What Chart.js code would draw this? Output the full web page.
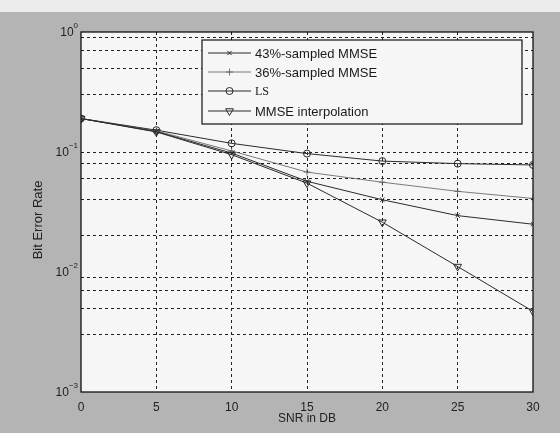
<!DOCTYPE html>
<html>
<head>
<meta charset="utf-8">
<script src="https://cdn.jsdelivr.net/npm/chart.js@4/dist/chart.umd.min.js"></script>
<style>
html,body{margin:0;padding:0;background:#b3b3b3;}
canvas{display:block;}
</style>
</head>
<body>
<canvas id="c" width="560" height="433"></canvas>
<script>
// ---- data ----
const snr = [0, 5, 10, 15, 20, 25, 30];
const mmse43 = [0.19, 0.148, 0.098, 0.057, 0.040, 0.0295, 0.025];
const mmse36 = [0.19, 0.150, 0.102, 0.068, 0.056, 0.047, 0.041];
const lsEst = [0.19, 0.152, 0.118, 0.097, 0.084, 0.080, 0.078];
const mmseInterp = [0.19, 0.147, 0.095, 0.055, 0.026, 0.0111, 0.0047];
const seriesLabels = ['43%-sampled MMSE', '36%-sampled MMSE', 'LS', 'MMSE interpolation'];
const xTicks = [0, 5, 10, 15, 20, 25, 30];
const yDecadeExponents = [0, -1, -2, -3];
const xTitle = 'SNR in DB';
const yTitle = 'Bit Error Rate';

// grid values for log axis (1..9 x 10^n)
const yGridValues = [];
for (let e = -3; e < 0; e++) {
  for (let m = 1; m <= 9; m++) yGridValues.push(m * Math.pow(10, e));
}
yGridValues.push(1);

const mk = (arr) => arr.map((v, i) => ({x: snr[i], y: v}));

const LINE = '#2b2b2b';
const datasets = [
  {label: seriesLabels[0], data: mk(mmse43), borderColor: LINE, borderWidth: 1, pointStyle: 'crossRot', pointRadius: 3, pointBorderWidth: 1, pointBorderColor: LINE, pointBackgroundColor: 'rgba(0,0,0,0)', pointRotation: 0},
  {label: seriesLabels[1], data: mk(mmse36), borderColor: '#5a5a5a', borderWidth: 0.8, pointStyle: 'cross', pointRadius: 3.5, pointBorderWidth: 0.8, pointBorderColor: '#5a5a5a', pointBackgroundColor: 'rgba(0,0,0,0)', pointRotation: 0},
  {label: seriesLabels[2], data: mk(lsEst), borderColor: LINE, borderWidth: 1, pointStyle: 'circle', pointRadius: 3.5, pointBorderWidth: 1, pointBorderColor: LINE, pointBackgroundColor: 'rgba(0,0,0,0)', pointRotation: 0},
  {label: seriesLabels[3], data: mk(mmseInterp), borderColor: LINE, borderWidth: 1, pointStyle: 'triangle', pointRadius: 4.5, pointBorderWidth: 1, pointBorderColor: LINE, pointBackgroundColor: 'rgba(0,0,0,0)', pointRotation: 180}
];

const decor = {
  id: 'decor',
  beforeDraw(chart) {
    const ctx = chart.ctx, a = chart.chartArea;
    ctx.save();
    ctx.fillStyle = '#b4b4b4';
    ctx.fillRect(0, 0, chart.width, chart.height);
    ctx.fillStyle = '#ececec';
    ctx.fillRect(0, 0, chart.width, 12);
    ctx.fillStyle = '#f6f6f6';
    ctx.fillRect(a.left, a.top, a.right - a.left, a.bottom - a.top);
    ctx.restore();
  },
  afterDraw(chart) {
    const ctx = chart.ctx, a = chart.chartArea;
    const ys = chart.scales.y;
    ctx.save();
    // frame
    ctx.strokeStyle = '#111';
    ctx.lineWidth = 1.3;
    ctx.strokeRect(a.left, a.top, a.right - a.left, a.bottom - a.top);
    // y tick labels 10^n
    ctx.fillStyle = '#222';
    ctx.textBaseline = 'middle';
    yDecadeExponents.forEach(e => {
      const y = ys.getPixelForValue(Math.pow(10, e));
      const exp = String(e).replace('-', '\u2212');
      ctx.font = '8px "Liberation Sans", Arial, sans-serif';
      const ew = ctx.measureText(exp).width;
      ctx.textAlign = 'right';
      ctx.fillText(exp, a.left - 3, y - 6);
      ctx.font = '12px "Liberation Sans", Arial, sans-serif';
      ctx.fillText('10', a.left - 3 - ew, y + 1);
    });
    // axis titles
    ctx.font = '12px "Liberation Sans", Arial, sans-serif';
    ctx.textAlign = 'center';
    ctx.fillText(xTitle, (a.left + a.right) / 2, 419);
    ctx.save();
    ctx.translate(38, 220);
    ctx.rotate(-Math.PI / 2);
    ctx.font = '13px "Liberation Sans", Arial, sans-serif';
    ctx.fillText(yTitle, 0, 0);
    ctx.restore();
    // legend box
    const bx = 202, by = 40, bw = 320, bh = 84;
    ctx.fillStyle = '#f6f6f6';
    ctx.fillRect(bx, by, bw, bh);
    ctx.strokeStyle = '#111';
    ctx.lineWidth = 1.2;
    ctx.strokeRect(bx, by, bw, bh);
    const rowsY = [53, 72, 91, 111];
    chart.data.datasets.forEach((ds, i) => {
      const y = rowsY[i];
      ctx.strokeStyle = ds.borderColor;
      ctx.lineWidth = ds.borderWidth;
      ctx.beginPath();
      ctx.moveTo(208, y);
      ctx.lineTo(251, y);
      ctx.stroke();
      ctx.fillStyle = 'rgba(0,0,0,0)';
      Chart.helpers.drawPoint(ctx, {pointStyle: ds.pointStyle, radius: ds.pointRadius, rotation: ds.pointRotation, borderWidth: ds.pointBorderWidth}, 229.5, y);
      ctx.fillStyle = '#1a1a1a';
      ctx.textAlign = 'left';
      ctx.font = (i === 2 ? '12px "Liberation Serif", serif' : '13px "Liberation Sans", Arial, sans-serif');
      ctx.fillText(ds.label, 255, y + 1);
    });
    ctx.restore();
  }
};

new Chart(document.getElementById('c'), {
  type: 'line',
  data: {datasets},
  options: {
    responsive: false,
    animation: false,
    devicePixelRatio: 1,
    layout: {padding: {left: 0, right: 27, top: 32, bottom: 0}},
    plugins: {legend: {display: false}, tooltip: {enabled: false}},
    elements: {line: {tension: 0}},
    scales: {
      x: {
        type: 'linear', min: 0, max: 30,
        afterBuildTicks: (s) => { s.ticks = xTicks.map(v => ({value: v})); },
        afterFit: (s) => { s.height = 41; },
        grid: {
          color: (c) => (c.tick && (c.tick.value === 0 || c.tick.value === 30)) ? 'rgba(0,0,0,0)' : '#222',
          lineWidth: 1, drawTicks: false
        },
        border: {display: false, dash: [3, 3]},
        ticks: {color: '#222', padding: 8, font: {size: 12, family: '"Liberation Sans", Arial, sans-serif'}, maxRotation: 0}
      },
      y: {
        type: 'logarithmic', min: 0.001, max: 1,
        afterBuildTicks: (s) => { s.ticks = yGridValues.map(v => ({value: v})); },
        afterFit: (s) => { s.width = 81; },
        grid: {
          color: (c) => (c.tick && (Math.abs(c.tick.value - 1) < 1e-9 || Math.abs(c.tick.value - 0.001) < 1e-12)) ? 'rgba(0,0,0,0)' : '#222',
          lineWidth: 1, drawTicks: false
        },
        border: {display: false, dash: [3, 3]},
        ticks: {callback: () => '', padding: 0}
      }
    }
  },
  plugins: [decor]
});
</script>
</body>
</html>
